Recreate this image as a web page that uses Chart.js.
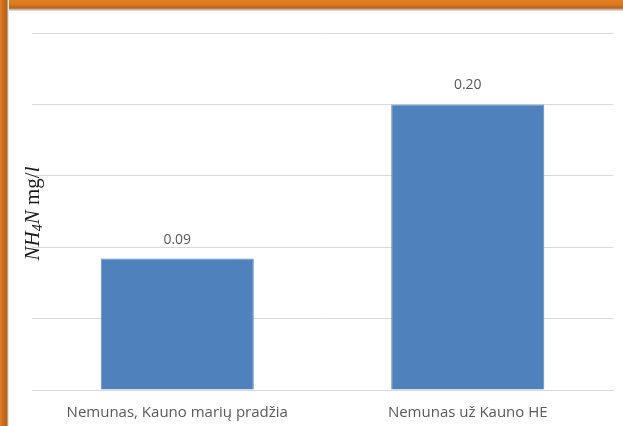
<!DOCTYPE html>
<html>
<head>
<meta charset="utf-8">
<script src="https://cdn.jsdelivr.net/npm/chart.js@4"></script>
<style>
  html, body { margin: 0; padding: 0; width: 623px; height: 426px; overflow: hidden; background: #fff; }
  #frame-top { position: absolute; left: 0; top: 0; width: 623px; height: 11px;
    background: linear-gradient(to bottom, #e47f22 0px, #d77720 5px, #b4651c 8px, #c9c9c9 10px, #efefef 11px); }
  #frame-left { position: absolute; left: 0; top: 0; width: 9px; height: 426px;
    background: linear-gradient(to right, #e47f22 0px, #c96d1e 3px, #b0621c 7px, #d8d8d8 8px, #f3f3f3 9px); }
  #wrap { position: absolute; left: 9px; top: 11px; width: 614px; height: 415px; }
</style>
</head>
<body>
<div id="frame-top"></div>
<div id="frame-left"></div>
<div id="wrap"><canvas id="bar-chart"></canvas></div>
<script>
var categories = ["Nemunas, Kauno marių pradžia", "Nemunas už Kauno HE"];
var values = [0.092, 0.20];
var yMin = 0;
var yMax = 0.25;
var yStep = 0.05;

// value labels over the bars
var barLabels = {
  id: "barLabels",
  afterDatasetsDraw: function(chart) {
    var ctx = chart.ctx;
    var meta = chart.getDatasetMeta(0);
    ctx.save();
    ctx.font = "14px 'Open Sans', sans-serif";
    ctx.fillStyle = "#595959";
    ctx.textAlign = "center";
    ctx.textBaseline = "middle";
    meta.data.forEach(function(bar, i) {
      ctx.fillText(values[i].toFixed(2), bar.x, bar.y - 19);
    });
    ctx.restore();
  }
};

// y axis title: NH4N mg/l, math style (italic letters, subscript 4)
var axisTitle = {
  id: "axisTitle",
  afterDraw: function(chart) {
    var ctx = chart.ctx;
    var area = chart.chartArea;
    var parts = [
      { t: "NH", font: "italic 21px 'Liberation Serif', serif", dy: 0 },
      { t: "4", font: "italic 14px 'Liberation Serif', serif", dy: 5 },
      { t: "N", font: "italic 21px 'Liberation Serif', serif", dy: 0 },
      { t: " mg/", font: "21px 'Liberation Serif', serif", dy: 0 },
      { t: "l", font: "italic 21px 'Liberation Serif', serif", dy: 0 }
    ];
    var total = 0;
    parts.forEach(function(p) { ctx.font = p.font; p.w = ctx.measureText(p.t).width; total += p.w; });
    ctx.save();
    ctx.translate(24, (area.top + area.bottom) / 2 + 2);
    ctx.rotate(-Math.PI / 2);
    ctx.fillStyle = "#1a1a1a";
    ctx.textBaseline = "middle";
    var x = -total / 2;
    parts.forEach(function(p) {
      ctx.font = p.font;
      ctx.fillText(p.t, x, p.dy);
      x += p.w;
    });
    ctx.restore();
  }
};

var element_bar = document.getElementById("bar-chart");
var bar_chart = new Chart(element_bar, {
  type: "bar",
  data: {
    labels: categories,
    datasets: [{
      data: values,
      backgroundColor: "#4f81bd",
      borderColor: "#5b8cc6",
      borderWidth: 1,
      categoryPercentage: 0.527,
      barPercentage: 1
    }]
  },
  options: {
    responsive: true,
    maintainAspectRatio: false,
    animation: false,
    layout: { padding: { left: 0, right: 10, top: 22, bottom: 0 } },
    plugins: {
      legend: { display: false },
      tooltip: { enabled: false }
    },
    scales: {
      x: {
        grid: { display: false, drawTicks: false },
        border: { display: true, color: "#d9d9d9", width: 1 },
        ticks: {
          padding: 14,
          color: "#595959",
          font: { family: "'Open Sans', sans-serif", size: 15 }
        },
        afterFit: function(scale) { scale.height = 36; }
      },
      y: {
        min: yMin,
        max: yMax,
        ticks: { display: false, stepSize: yStep },
        grid: { color: "#d9d9d9", drawTicks: false },
        border: { display: false },
        afterFit: function(scale) { scale.width = 23; }
      }
    }
  },
  plugins: [barLabels, axisTitle]
});
</script>
</body>
</html>
